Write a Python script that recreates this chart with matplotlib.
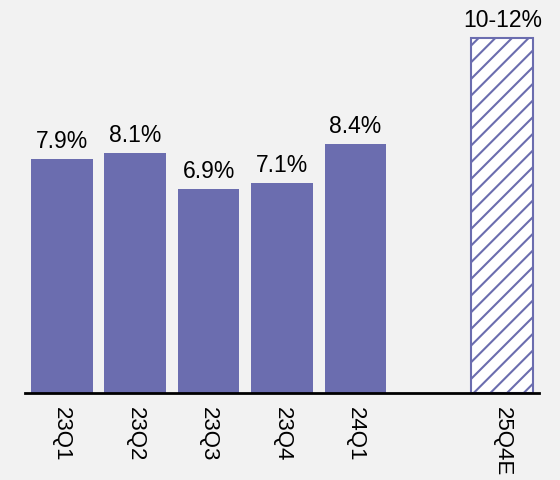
import matplotlib
matplotlib.use("Agg")
import matplotlib.pyplot as plt

plt.rcParams['font.family'] = ['Liberation Sans', 'DejaVu Sans']
plt.rcParams['hatch.linewidth'] = 1.5

quarters = ["23Q1", "23Q2", "23Q3", "23Q4", "24Q1"]
values = [7.9, 8.1, 6.9, 7.1, 8.4]
positions = [0, 1, 2, 3, 4]
est_label = "25Q4E"
est_value = 12
est_text = "10-12%"
est_pos = 6

bar_color = "#6b6daf"
bg = "#f2f2f2"

fig = plt.figure(figsize=(5.6, 4.8), dpi=100, facecolor=bg)
ax = fig.add_axes([25 / 560, 1 - 393 / 480, 514 / 560, 393 / 480])
ax.set_facecolor(bg)

ax.bar(positions, values, width=0.84, color=bar_color)
ax.bar([est_pos], [est_value], width=0.84, color="white", edgecolor=bar_color,
       hatch="//", linewidth=1.5)

for p, v in zip(positions, values):
    ax.text(p, v + 0.2, f"{v}%", ha="center", va="bottom", fontsize=16.5)
ax.text(est_pos, est_value + 0.2, est_text, ha="center", va="bottom", fontsize=16.5)

ax.set_xlim(-0.5, 6.5)
ax.set_ylim(0, 13.28)
ax.set_xticks(positions + [est_pos])
ax.set_xticklabels(quarters + [est_label], rotation=270, fontsize=16)
ax.tick_params(axis="x", length=0, pad=10)
ax.set_yticks([])
for s in ["top", "right", "left"]:
    ax.spines[s].set_visible(False)
ax.spines["bottom"].set_linewidth(2)

fig.savefig("out.png", dpi=100, facecolor=bg)
